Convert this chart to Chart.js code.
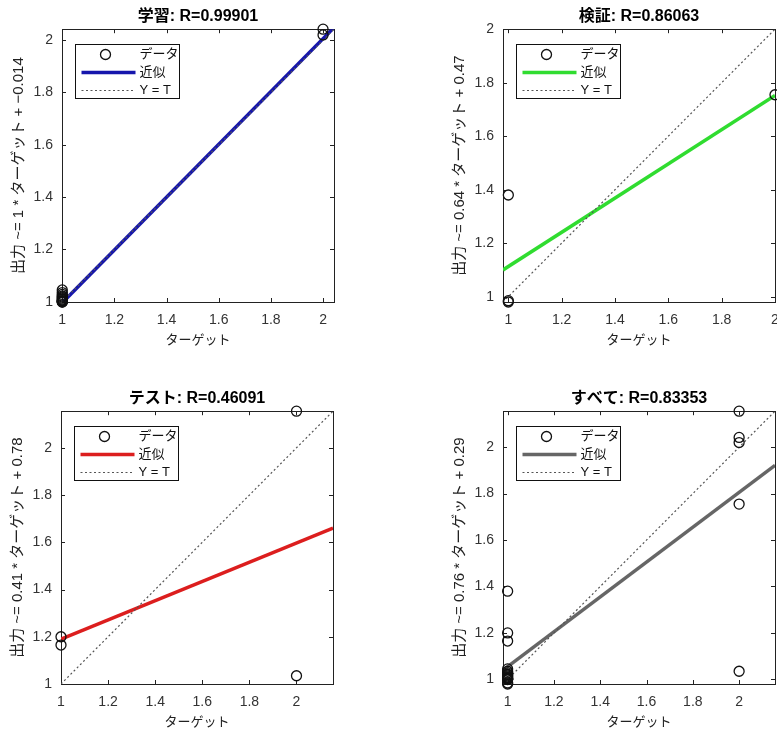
<!DOCTYPE html>
<html lang="ja">
<head>
<meta charset="UTF-8">
<title>回帰プロット</title>
<script src="https://cdn.jsdelivr.net/npm/chart.js"></script>
<style>
  html, body { margin: 0; padding: 0; overflow: hidden; background: #fff; }
  body { width: 777px; height: 733px; position: relative; }
  canvas { position: absolute; }
</style>
</head>
<body>
<canvas id="trainChart" width="390" height="360" style="left:0;top:0"></canvas>
<canvas id="valChart" width="390" height="360" style="left:441px;top:0"></canvas>
<canvas id="testChart" width="390" height="360" style="left:-1px;top:382px"></canvas>
<canvas id="allChart" width="390" height="360" style="left:441px;top:382px"></canvas>

<script>
// tick positions shared by all four plots
const tickValues = [1, 1.2, 1.4, 1.6, 1.8, 2];

// 学習
const trainTarget = [1, 1, 1, 1, 1, 1, 1, 1, 1, 1, 1, 1, 1, 2, 2];
const trainOutput = [1.045, 1.035, 1.028, 1.022, 1.018, 1.014, 1.01, 1.007, 1.004, 1.002, 1.0, 1.0, 0.999, 2.042, 2.02];
const trainLimits = [0.999, 2.042];
const trainFitX = [0.999, 2.042];
const trainFitY = [0.995, 2.048];

// 検証
const valTarget = [1, 1, 1, 2];
const valOutput = [0.98, 0.985, 1.38, 1.755];
const valLimits = [0.98, 2];
const valFitX = [0.98, 2];
const valFitY = [1.1, 1.752];

// テスト
const testTarget = [1, 1, 2, 2];
const testOutput = [1.2, 1.165, 2.155, 1.035];
const testLimits = [1, 2.155];
const testFitX = [1, 2.155];
const testFitY = [1.19, 1.66];

// すべて
const allTarget = trainTarget.concat(valTarget, testTarget);
const allOutput = trainOutput.concat(valOutput, testOutput);
const allLimits = [0.98, 2.155];
const allFitX = [0.98, 2.155];
const allFitY = [1.04, 1.922];

const legendLabels = ['データ', '近似', 'Y = T'];

Chart.defaults.font.family = "'Liberation Sans', 'Noto Sans CJK JP', sans-serif";

// box, inward ticks and the little legend, drawn like the MATLAB figure
const framePlugin = {
  id: 'frame',
  beforeDatasetsDraw(chart) {
    const { ctx, chartArea: a, scales: { x, y } } = chart;
    ctx.save();
    ctx.strokeStyle = '#222';
    ctx.lineWidth = 1;
    ctx.beginPath();
    x.ticks.forEach(t => {
      const px = Math.round(x.getPixelForValue(t.value)) + 0.5;
      ctx.moveTo(px, a.bottom); ctx.lineTo(px, a.bottom - 4);
      ctx.moveTo(px, a.top); ctx.lineTo(px, a.top + 4);
    });
    y.ticks.forEach(t => {
      const py = Math.round(y.getPixelForValue(t.value)) + 0.5;
      ctx.moveTo(a.left, py); ctx.lineTo(a.left + 4, py);
      ctx.moveTo(a.right, py); ctx.lineTo(a.right - 4, py);
    });
    ctx.stroke();
    ctx.strokeRect(Math.round(a.left) + 0.5, Math.round(a.top) + 0.5, Math.round(a.width), Math.round(a.height));
    ctx.restore();
  },
  afterDatasetsDraw(chart, args, opts) {
    const { ctx, chartArea: a } = chart;
    const left = Math.round(a.left) + 13.5, top = Math.round(a.top) + 15.5;
    ctx.save();
    ctx.fillStyle = '#fff';
    ctx.fillRect(left, top, 104, 54);
    ctx.strokeStyle = '#111';
    ctx.lineWidth = 1;
    ctx.strokeRect(left, top, 104, 54);

    // data marker
    ctx.beginPath();
    ctx.arc(left + 30, top + 10, 5, 0, Math.PI * 2);
    ctx.lineWidth = 1.3;
    ctx.stroke();

    // fit line
    ctx.beginPath();
    ctx.moveTo(left + 6, top + 28); ctx.lineTo(left + 60, top + 28);
    ctx.strokeStyle = opts.color;
    ctx.lineWidth = 3.5;
    ctx.stroke();

    // Y = T
    ctx.beginPath();
    ctx.setLineDash([2, 2.5]);
    ctx.moveTo(left + 6, top + 46); ctx.lineTo(left + 60, top + 46);
    ctx.strokeStyle = '#555';
    ctx.lineWidth = 1.2;
    ctx.stroke();
    ctx.setLineDash([]);

    ctx.fillStyle = '#111';
    ctx.font = "13px 'Liberation Sans', 'Noto Sans CJK JP', sans-serif";
    ctx.textBaseline = 'middle';
    legendLabels.forEach((txt, i) => ctx.fillText(txt, left + 64, top + 10 + i * 18));
    ctx.restore();
  }
};

function axis(lim, titleText, isX) {
  return {
    type: 'linear',
    min: lim[0],
    max: lim[1],
    afterBuildTicks: s => {
      s.ticks = tickValues.filter(v => v >= s.min - 0.005 && v <= s.max + 1e-9).map(v => ({ value: v }));
    },
    afterFit: s => {
      if (isX) s.height = 50; else s.width = 62;
    },
    grid: { display: false, drawTicks: false },
    border: { display: false },
    ticks: {
      color: '#333',
      font: { size: 14 },
      padding: isX ? 10 : 9,
      maxRotation: 0,
      callback: v => String(v)
    },
    title: {
      display: true,
      text: titleText,
      color: '#222',
      font: { size: isX ? 13 : 15 },
      padding: isX ? { top: 0, bottom: 4 } : { top: 10, bottom: 0 }
    }
  };
}

function drawPanel(id, title, yLabel, targets, outputs, lim, fitX, fitY, color) {
  new Chart(document.getElementById(id), {
    type: 'scatter',
    data: {
      datasets: [
        {
          label: legendLabels[0],
          data: targets.map((t, i) => ({ x: t, y: outputs[i] })),
          showLine: false,
          pointStyle: 'circle',
          pointRadius: 5,
          pointBorderWidth: 1.3,
          pointBorderColor: '#111',
          pointBackgroundColor: 'rgba(0,0,0,0)',
          clip: false
        },
        {
          label: legendLabels[2],
          data: [{ x: lim[0], y: lim[0] }, { x: lim[1], y: lim[1] }],
          showLine: true,
          borderColor: '#555',
          borderWidth: 1.2,
          borderDash: [2, 2.5],
          pointRadius: 0
        },
        {
          label: legendLabels[1],
          data: fitX.map((x, i) => ({ x: x, y: fitY[i] })),
          showLine: true,
          borderColor: color,
          borderWidth: 3.5,
          pointRadius: 0
        }
      ]
    },
    options: {
      responsive: false,
      animation: false,
      events: [],
      layout: { padding: { left: 0, right: 56, top: 0, bottom: 8 } },
      scales: {
        x: axis(lim, 'ターゲット', true),
        y: axis(lim, yLabel, false)
      },
      plugins: {
        legend: { display: false },
        tooltip: { enabled: false },
        title: {
          display: true,
          text: title,
          fullSize: false,
          color: '#000',
          font: { size: 16, weight: 'bold' },
          padding: { top: 7, bottom: 3 }
        },
        frame: { color: color }
      }
    },
    plugins: [framePlugin]
  });
}

drawPanel('trainChart', '学習: R=0.99901', '出力 ~= 1 * ターゲット + −0.014',
  trainTarget, trainOutput, trainLimits, trainFitX, trainFitY, '#1616ac');
drawPanel('valChart', '検証: R=0.86063', '出力 ~= 0.64 * ターゲット + 0.47',
  valTarget, valOutput, valLimits, valFitX, valFitY, '#30dc30');
drawPanel('testChart', 'テスト: R=0.46091', '出力 ~= 0.41 * ターゲット + 0.78',
  testTarget, testOutput, testLimits, testFitX, testFitY, '#dc1e1e');
drawPanel('allChart', 'すべて: R=0.83353', '出力 ~= 0.76 * ターゲット + 0.29',
  allTarget, allOutput, allLimits, allFitX, allFitY, '#666666');
</script>
</body>
</html>
